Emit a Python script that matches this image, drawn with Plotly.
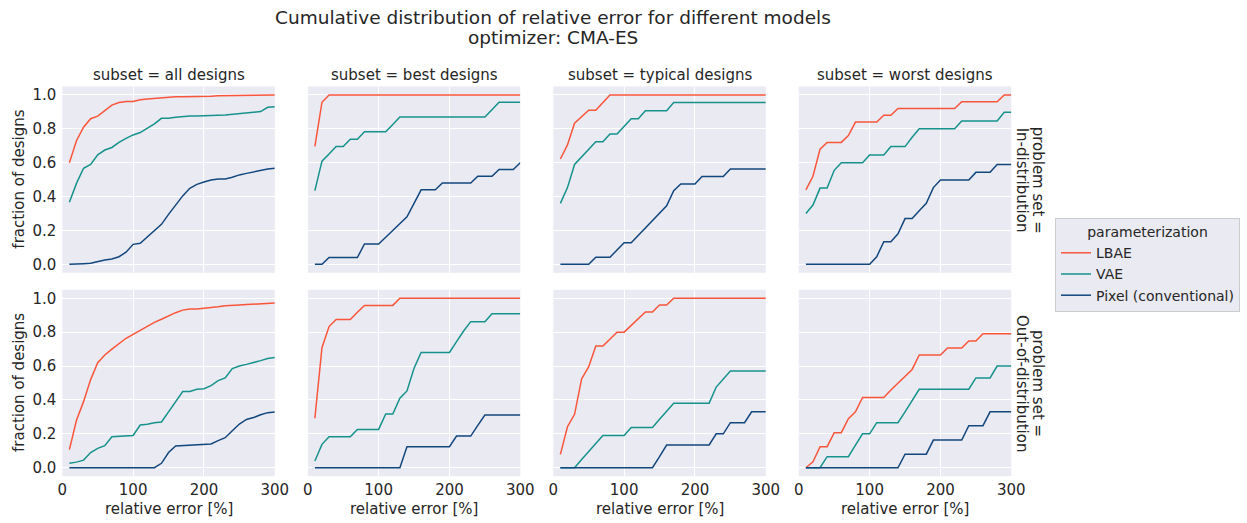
import plotly.graph_objects as go

# ---------------- data ----------------
rel_error = [10, 20, 30, 40, 50, 60, 70, 80, 90, 100, 110, 120, 130, 140, 150,
             160, 170, 180, 190, 200, 210, 220, 230, 240, 250, 260, 270, 280, 290, 300]

models = ["LBAE", "VAE", "Pixel (conventional)"]
subsets = ["all designs", "best designs", "typical designs", "worst designs"]
problem_sets = ["In-distribution", "Out-of-distribution"]

# In-distribution
lbae_in_all = [0.60, 0.73, 0.81, 0.86, 0.875, 0.91, 0.94, 0.955, 0.962, 0.962, 0.972, 0.976, 0.98, 0.984, 0.986,
               0.99, 0.99, 0.99, 0.99, 0.99, 0.992, 0.996, 0.996, 0.996, 0.996, 0.996, 0.996, 0.996, 0.996, 1.0]
vae_in_all = [0.366, 0.478, 0.567, 0.59, 0.646, 0.675, 0.69, 0.72, 0.744, 0.764, 0.778, 0.803, 0.829, 0.862, 0.862,
              0.868, 0.874, 0.876, 0.876, 0.876, 0.878, 0.88, 0.882, 0.886, 0.892, 0.898, 0.902, 0.902, 0.927, 0.931]
pix_in_all = [0, 0, 0.004, 0.006, 0.018, 0.026, 0.031, 0.045, 0.072, 0.118, 0.124, 0.163, 0.203, 0.236, 0.295,
              0.35, 0.404, 0.449, 0.472, 0.486, 0.498, 0.504, 0.504, 0.514, 0.528, 0.537, 0.547, 0.557, 0.563, 0.567]

lbae_in_best = [0.696, 0.957, 1, 1, 1, 1, 1, 1, 1, 1, 1, 1, 1, 1, 1,
                1, 1, 1, 1, 1, 1, 1, 1, 1, 1, 1, 1, 1, 1, 1]
vae_in_best = [0.435, 0.609, 0.652, 0.696, 0.696, 0.739, 0.739, 0.783, 0.783, 0.783, 0.783, 0.826, 0.87, 0.87, 0.87,
               0.87, 0.87, 0.87, 0.87, 0.87, 0.87, 0.87, 0.87, 0.87, 0.87, 0.913, 0.957, 0.957, 0.957, 0.957]
pix_in_best = [0, 0, 0.04, 0.04, 0.04, 0.04, 0.04, 0.12, 0.12, 0.12, 0.16, 0.2, 0.24, 0.28, 0.36,
               0.44, 0.44, 0.44, 0.48, 0.48, 0.48, 0.48, 0.48, 0.52, 0.52, 0.52, 0.56, 0.56, 0.56, 0.6]

lbae_in_typ = [0.622, 0.705, 0.833, 0.872, 0.91, 0.91, 0.955, 1, 1, 1, 1, 1, 1, 1, 1,
               1, 1, 1, 1, 1, 1, 1, 1, 1, 1, 1, 1, 1, 1, 1]
vae_in_typ = [0.36, 0.453, 0.59, 0.636, 0.68, 0.724, 0.724, 0.77, 0.77, 0.817, 0.86, 0.86, 0.907, 0.907, 0.907,
              0.907, 0.955, 0.955, 0.955, 0.955, 0.955, 0.955, 0.955, 0.955, 0.955, 0.955, 0.955, 0.955, 0.955, 0.955]
pix_in_typ = [0, 0, 0, 0, 0, 0.042, 0.042, 0.042, 0.085, 0.128, 0.128, 0.172, 0.215, 0.259, 0.302,
              0.346, 0.435, 0.474, 0.474, 0.474, 0.518, 0.518, 0.518, 0.518, 0.563, 0.563, 0.563, 0.563, 0.563, 0.563]

lbae_in_worst = [0.44, 0.52, 0.68, 0.72, 0.72, 0.72, 0.76, 0.84, 0.84, 0.84, 0.84, 0.88, 0.88, 0.92, 0.92,
                 0.92, 0.92, 0.92, 0.92, 0.92, 0.92, 0.92, 0.96, 0.96, 0.96, 0.96, 0.96, 0.96, 1.0, 1.0]
vae_in_worst = [0.30, 0.35, 0.45, 0.45, 0.555, 0.6, 0.6, 0.6, 0.6, 0.645, 0.645, 0.645, 0.695, 0.695, 0.695,
                0.75, 0.8, 0.8, 0.8, 0.8, 0.8, 0.8, 0.846, 0.846, 0.846, 0.846, 0.846, 0.846, 0.898, 0.898]
pix_in_worst = [0, 0, 0, 0, 0, 0, 0, 0, 0, 0, 0.045, 0.134, 0.134, 0.18, 0.27,
                0.27, 0.317, 0.36, 0.453, 0.498, 0.498, 0.498, 0.498, 0.498, 0.543, 0.543, 0.543, 0.589, 0.589, 0.589]

# Out-of-distribution
lbae_ood_all = [0.107, 0.28, 0.39, 0.52, 0.62, 0.665, 0.70, 0.73, 0.764, 0.787, 0.81, 0.837, 0.858, 0.876, 0.896,
                0.915, 0.93, 0.936, 0.937, 0.94, 0.946, 0.95, 0.956, 0.96, 0.961, 0.963, 0.965, 0.967, 0.97, 0.972]
vae_ood_all = [0.026, 0.033, 0.045, 0.09, 0.114, 0.13, 0.183, 0.185, 0.19, 0.19, 0.252, 0.256, 0.265, 0.27, 0.33,
               0.39, 0.45, 0.45, 0.463, 0.466, 0.484, 0.514, 0.53, 0.585, 0.6, 0.61, 0.62, 0.632, 0.645, 0.65]
pix_ood_all = [0, 0, 0, 0, 0, 0, 0, 0, 0, 0, 0, 0, 0, 0.026, 0.09,
               0.128, 0.13, 0.132, 0.136, 0.136, 0.14, 0.16, 0.177, 0.218, 0.258, 0.285, 0.296, 0.313, 0.325, 0.329]

lbae_ood_best = [0.292, 0.708, 0.833, 0.875, 0.875, 0.875, 0.917, 0.958, 0.958, 0.958, 0.958, 0.958, 1, 1, 1,
                 1, 1, 1, 1, 1, 1, 1, 1, 1, 1, 1, 1, 1, 1, 1]
vae_ood_best = [0.04, 0.138, 0.183, 0.183, 0.183, 0.183, 0.226, 0.226, 0.226, 0.226, 0.317, 0.317, 0.41, 0.453, 0.587,
                0.68, 0.68, 0.68, 0.68, 0.68, 0.744, 0.807, 0.862, 0.862, 0.862, 0.909, 0.909, 0.909, 0.909, 0.909]
pix_ood_best = [0, 0, 0, 0, 0, 0, 0, 0, 0, 0, 0, 0, 0, 0.124, 0.124,
                0.124, 0.124, 0.124, 0.124, 0.124, 0.187, 0.187, 0.187, 0.25, 0.311, 0.311, 0.311, 0.311, 0.311, 0.311]

lbae_ood_typ = [0.079, 0.242, 0.315, 0.524, 0.596, 0.718, 0.718, 0.758, 0.8, 0.8, 0.839, 0.878, 0.919, 0.919, 0.96,
                0.96, 1, 1, 1, 1, 1, 1, 1, 1, 1, 1, 1, 1, 1, 1]
vae_ood_typ = [0, 0, 0, 0.048, 0.095, 0.143, 0.19, 0.19, 0.19, 0.19, 0.238, 0.238, 0.238, 0.238, 0.286,
               0.333, 0.381, 0.381, 0.381, 0.381, 0.381, 0.381, 0.476, 0.524, 0.571, 0.571, 0.571, 0.571, 0.571, 0.571]
pix_ood_typ = [0, 0, 0, 0, 0, 0, 0, 0, 0, 0, 0, 0, 0, 0, 0.065,
               0.134, 0.134, 0.134, 0.134, 0.134, 0.134, 0.134, 0.2, 0.2, 0.266, 0.266, 0.266, 0.33, 0.33, 0.33]

lbae_ood_worst = [0, 0.035, 0.124, 0.124, 0.207, 0.207, 0.29, 0.33, 0.415, 0.415, 0.415, 0.415, 0.459, 0.498, 0.537,
                  0.58, 0.665, 0.665, 0.665, 0.665, 0.707, 0.707, 0.707, 0.748, 0.748, 0.791, 0.791, 0.791, 0.791, 0.791]
vae_ood_worst = [0, 0, 0, 0.065, 0.065, 0.065, 0.065, 0.134, 0.2, 0.2, 0.266, 0.266, 0.266, 0.266, 0.33,
                 0.4, 0.463, 0.463, 0.463, 0.463, 0.463, 0.463, 0.463, 0.463, 0.53, 0.53, 0.53, 0.6, 0.6, 0.6]
pix_ood_worst = [0, 0, 0, 0, 0, 0, 0, 0, 0, 0, 0, 0, 0, 0, 0.08,
                 0.08, 0.08, 0.08, 0.163, 0.163, 0.163, 0.163, 0.163, 0.248, 0.248, 0.248, 0.33, 0.33, 0.33, 0.33]

grid_data = [
    [[lbae_in_all, vae_in_all, pix_in_all],
     [lbae_in_best, vae_in_best, pix_in_best],
     [lbae_in_typ, vae_in_typ, pix_in_typ],
     [lbae_in_worst, vae_in_worst, pix_in_worst]],
    [[lbae_ood_all, vae_ood_all, pix_ood_all],
     [lbae_ood_best, vae_ood_best, pix_ood_best],
     [lbae_ood_typ, vae_ood_typ, pix_ood_typ],
     [lbae_ood_worst, vae_ood_worst, pix_ood_worst]],
]

x_ticks = [0, 100, 200, 300]
y_ticks = [0.0, 0.2, 0.4, 0.6, 0.8, 1.0]
y_ticktext = ["0.0", "0.2", "0.4", "0.6", "0.8", "1.0"]

# ---------------- style / layout ----------------
W, H = 1247, 523
colors = ["#F9553A", "#16928D", "#12477E"]
BG = "#EAEAF2"
TXT = "#262626"
FONT = "DejaVu Sans"

col_x0 = [62.3, 307.8, 553.3, 798.8]
col_w = 212.5
row_y = [(86.5, 272.8), (289.8, 476.2)]

fig = go.Figure()
layout = dict(
    template="none",
    width=W, height=H,
    margin=dict(l=0, r=0, t=0, b=0, pad=0, autoexpand=False),
    paper_bgcolor="white", plot_bgcolor=BG,
    font=dict(family=FONT, color=TXT, size=15),
    showlegend=True,
    legend=dict(
        x=1055 / W, y=1 - 218 / H, xanchor="left", yanchor="top",
        bgcolor=BG, bordercolor="#CCCCCC", borderwidth=1,
        font=dict(size=14, family=FONT, color=TXT),
        title=dict(text="parameterization", side="top center", font=dict(size=14, family=FONT, color=TXT)),
        tracegroupgap=0,
    ),
)

def txt(text, px, py, size=15, angle=0):
    return dict(text=text, x=px / W, y=1 - py / H, xref="paper", yref="paper",
                showarrow=False, xanchor="center", yanchor="middle", textangle=angle,
                font=dict(size=size, family=FONT, color=TXT))

annotations = []
for r in range(2):
    for c in range(4):
        idx = r * 4 + c + 1
        sx = "" if idx == 1 else str(idx)
        x0 = col_x0[c]
        x1 = x0 + col_w
        y0, y1 = row_y[r]
        layout["xaxis" + sx] = dict(
            domain=[x0 / W, x1 / W], range=[0, 300], anchor="y" + sx, automargin=False,
            tickvals=x_ticks, showticklabels=(r == 1), ticks="", ticklabelstandoff=3,
            showgrid=True, gridcolor="white", gridwidth=1.2,
            zeroline=False, showline=False, fixedrange=True,
            tickfont=dict(size=15, family=FONT, color=TXT),
        )
        layout["yaxis" + sx] = dict(
            domain=[1 - y1 / H, 1 - y0 / H], range=[-0.05, 1.05], anchor="x" + sx, automargin=False,
            tickvals=y_ticks, ticktext=y_ticktext, showticklabels=(c == 0), ticks="", ticklabelstandoff=5,
            showgrid=True, gridcolor="white", gridwidth=1.2,
            zeroline=False, showline=False, fixedrange=True,
            tickfont=dict(size=15, family=FONT, color=TXT),
        )
        for m, name in enumerate(models):
            fig.add_trace(go.Scatter(
                x=rel_error, y=grid_data[r][c][m], mode="lines", name=name,
                legendgroup=name, showlegend=(idx == 1),
                line=dict(color=colors[m], width=1.5),
                xaxis="x" + sx, yaxis="y" + sx, hoverinfo="skip",
            ))
        if r == 0:
            annotations.append(txt("subset = " + subsets[c], x0 + col_w / 2, 75))
        if r == 1:
            annotations.append(txt("relative error [%]", x0 + col_w / 2, 509))
    yc = (row_y[r][0] + row_y[r][1]) / 2
    annotations.append(txt("fraction of designs", 19, yc, angle=-90))
    annotations.append(txt("problem set =", 1038, yc, angle=90))
    annotations.append(txt(problem_sets[r], 1022, yc, angle=90))

# main title
annotations.append(txt("Cumulative distribution of relative error for different models", 553, 17, size=18.5))
annotations.append(txt("optimizer: CMA-ES", 553, 37, size=18.5))

layout["annotations"] = annotations
fig.update_layout(**layout)
fig.write_html(
    "out.html",
    config={"displayModeBar": False, "staticPlot": False},
    post_script="document.body.style.margin='0px';document.body.style.padding='0px';"
                "document.documentElement.style.overflow='hidden';",
)
